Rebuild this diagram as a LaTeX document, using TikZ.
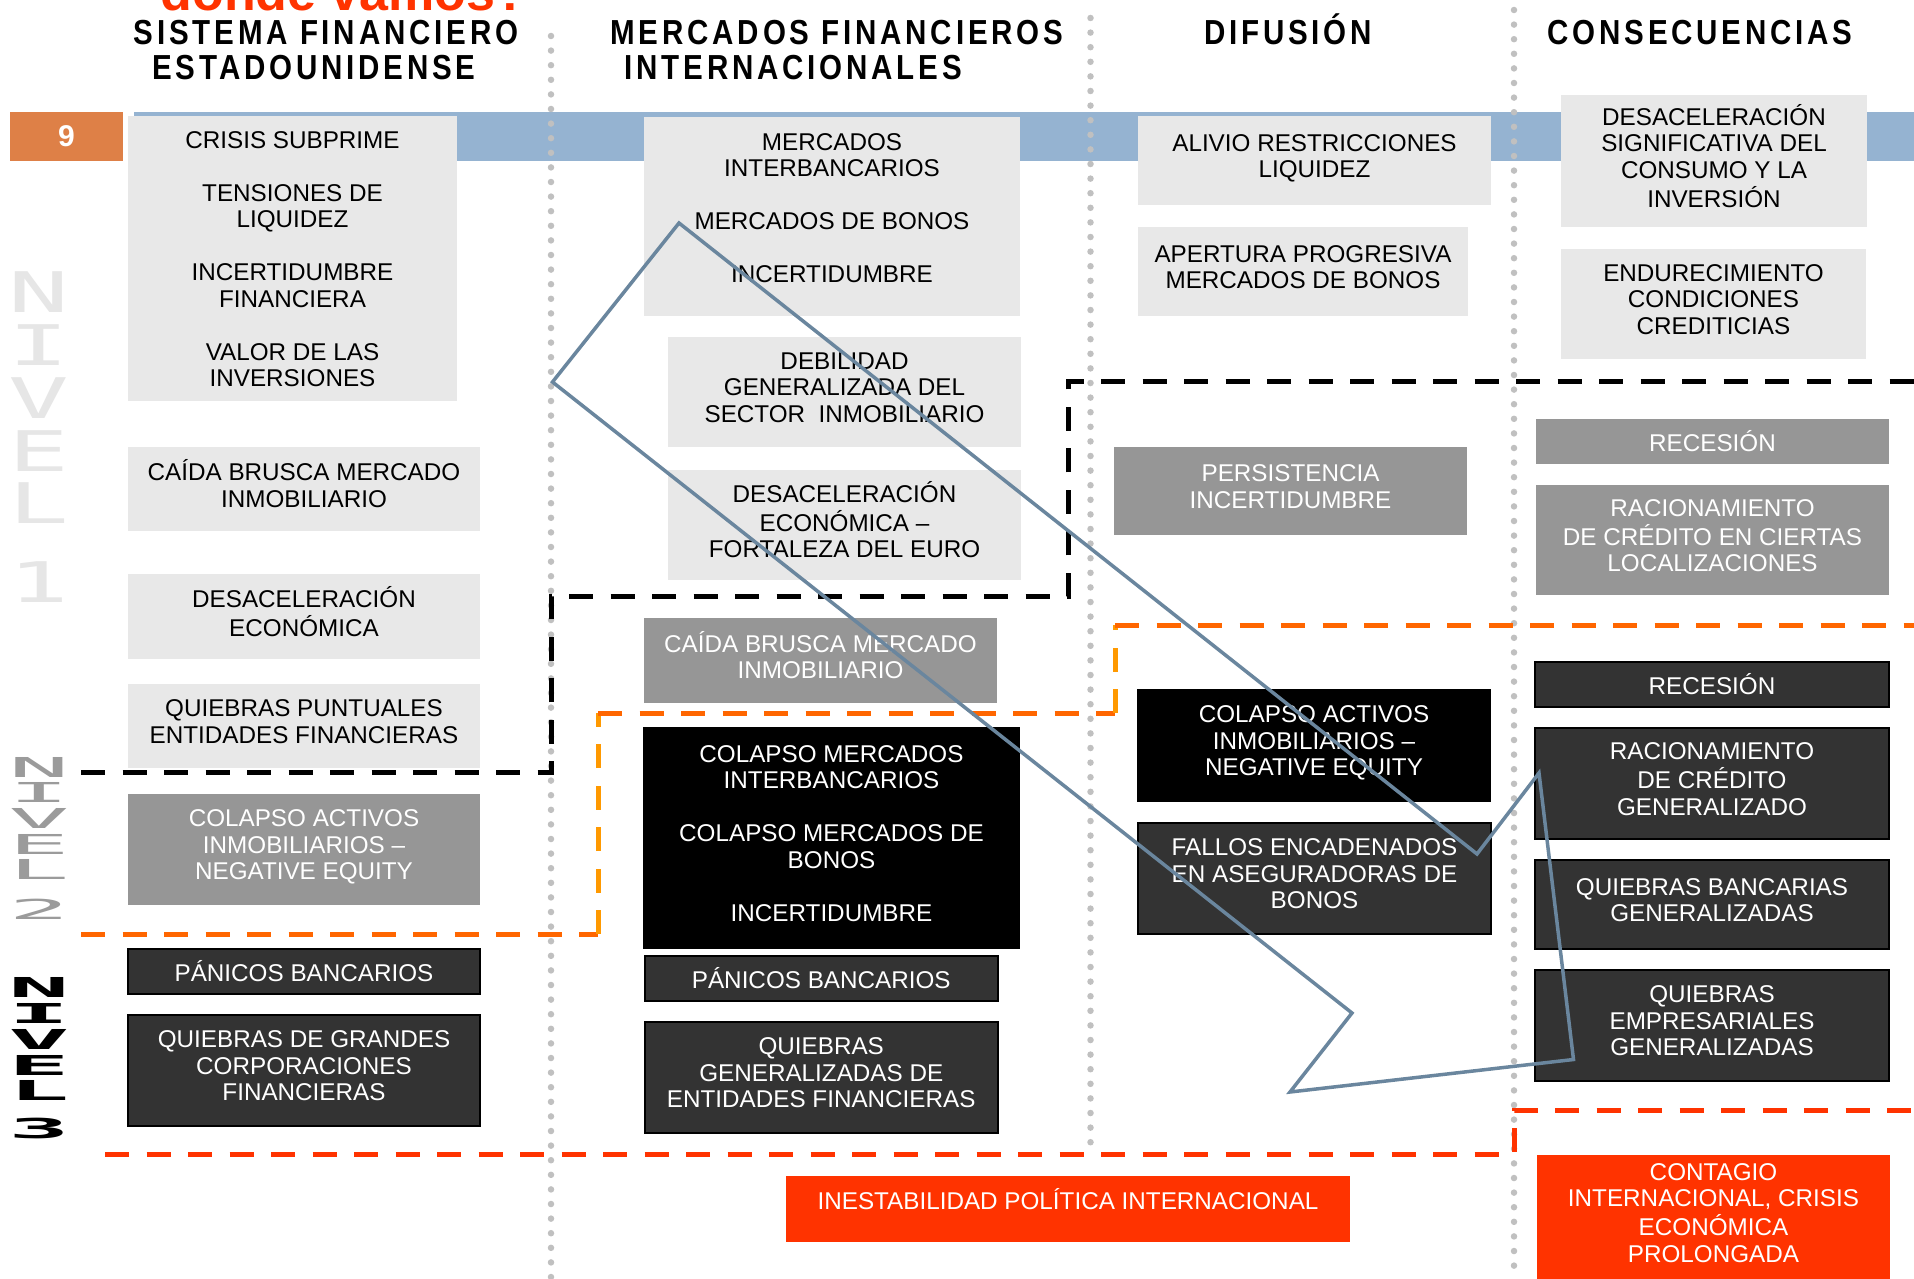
\documentclass[tikz,border=0pt]{standalone}
\usepackage{graphicx}
\usepackage{fontspec}
\setmainfont{Liberation Sans}
\newfontfamily\headfam{Liberation Sans}[FakeStretch=0.85,LetterSpace=11]
\newfontfamily\nivfam{DejaVu Sans Mono}
\usetikzlibrary{fit}

\definecolor{bandblue}{RGB}{149,179,209}
\definecolor{taborange}{RGB}{222,128,71}
\definecolor{boxlight}{RGB}{232,232,232}
\definecolor{boxmid}{RGB}{150,150,150}
\definecolor{boxdark}{RGB}{51,51,51}
\definecolor{alertred}{RGB}{255,51,0}
\definecolor{dotgrey}{RGB}{192,192,192}
\definecolor{lvlorange}{RGB}{255,102,0}
\definecolor{lvlamber}{RGB}{255,153,0}
\definecolor{arrowslate}{RGB}{106,134,158}
\definecolor{nivlight}{RGB}{230,230,230}
\definecolor{nivmid}{RGB}{155,155,155}

\newcommand\boxfont{\fontsize{9.7pt}{10.6pt}\selectfont}
\newcommand\headfont{\headfam\bfseries\fontsize{13.9pt}{14.2pt}\selectfont}
\newcommand\nivfont{\nivfam\fontsize{22.4pt}{24pt}\selectfont}
\newcommand\cellrows[1]{\begin{tabular}{@{}c@{}}#1\end{tabular}}
\newcommand\gap{\\[10.6pt]}

\begin{document}
\begin{tikzpicture}[x=0.4pt, y=-0.4pt,
	cell/.style={inner sep=0pt, outer sep=0pt},
	lightbox/.style={cell, fill=boxlight},
	midbox/.style={cell, fill=boxmid},
	darkbox/.style={cell, fill=boxdark, draw=black, line width=0.8pt},
	blackbox/.style={cell, fill=black},
	redbox/.style={cell, fill=alertred},
	blacktxt/.style={inner sep=0pt, font=\boxfont, text=black, yshift=0.6pt},
	whitetxt/.style={inner sep=0pt, font=\boxfont, text=white, yshift=0.6pt},
	oneline/.style={yshift=-2pt},
	headtxt/.style={inner sep=0pt, font=\headfont},
	nivone/.style={inner sep=0pt, font=\nivfont, text=nivlight},
	nivtwo/.style={inner sep=0pt, font=\nivfont, text=nivmid},
	nivthree/.style={inner sep=0pt, font=\nivfont\bfseries, text=black},
	dotline/.style={dotgrey, line width=2.6pt, line cap=round, dash pattern=on 0pt off 5.84pt},
	lvlone/.style={black, line width=2pt, dash pattern=on 9.6pt off 7pt},
	lvltwo/.style={lvlorange, line width=2pt, dash pattern=on 9.6pt off 7pt},
	lvltwoside/.style={lvlamber, line width=2pt, dash pattern=on 9.6pt off 7pt},
	lvlthree/.style={alertred, line width=2pt, dash pattern=on 9.6pt off 7pt},
	bigarrow/.style={arrowslate, line width=1.4pt}]

	\fill[white] (0,0) rectangle (1914,1279);
	\useasboundingbox (0,0) rectangle (1914,1279);

	% title and column heads
	\node[anchor=base west, inner sep=0pt, text=alertred, font=\bfseries\fontsize{20.8pt}{24pt}\selectfont] (titulo) at (160,11) {dónde vamos?};
	\node[headtxt, anchor=base] (hsist) at (326,45) {SISTEMA FINANCIERO};
	\node[headtxt, anchor=base] (hestad) at (314,80) {ESTADOUNIDENSE};
	\node[headtxt, anchor=base west] (hmerc) at (610,45) {MERCADOS FINANCIEROS};
	\node[headtxt, anchor=base west] (hinter) at (624,80) {INTERNACIONALES};
	\node[headtxt, anchor=base] (hdifu) at (1288,45) {DIFUSIÓN};
	\node[headtxt, anchor=base] (hcons) at (1700,45) {CONSECUENCIAS};

	% band, page number
	\fill[bandblue] (134,112.5) rectangle (1914,160.7);
	\node[cell, fill=taborange, fit={(10,112.5) (123,160.7)}] (pagina) {};
	\node[inner sep=0pt, text=white, font=\bfseries\fontsize{12pt}{14pt}\selectfont] (paginaT) at (pagina) {9};

	% column separators
	\draw[dotline] (551,36) -- (551,1279);
	\draw[dotline] (1090.5,18) -- (1090.5,1156);
	\draw[dotline] (1514,10) -- (1514,1279);

	% level borders
	\draw[lvlone] (81,772) -- (551,772) -- (551,596) -- (1068,596) -- (1068,381) -- (1914,381);
	\draw[lvltwo] (81,934) -- (598,934);
	\draw[lvltwoside] (598,934) -- (598,713);
	\draw[lvltwo] (598,713) -- (1115,713);
	\draw[lvltwoside] (1115,713) -- (1115,625);
	\draw[lvltwo] (1115,625) -- (1914,625);
	\draw[lvlthree] (105,1154) -- (1514,1154) -- (1514,1110) -- (1914,1110);

	% level labels
	\foreach \ch/\yy in {N/292,I/345,V/398,E/451,L/503,1/582}
		\node[nivone] (nivA\yy) at (39,\yy) {\scalebox{1.8}[1]{\ch}};
	\foreach \ch/\yy in {N/767,I/792,V/818,E/844,L/869,2/909}
		\node[nivtwo] (nivB\yy) at (39,\yy) {\scalebox{1.8}[0.49]{\ch}};
	\foreach \ch/\yy in {N/987,I/1013,V/1039,E/1065,L/1090,3/1129}
		\node[nivthree] (nivC\yy) at (39,\yy) {\scalebox{1.8}[0.49]{\ch}};

	% sistema financiero estadounidense
	\node[lightbox, fit={(128,116) (457,401)}] (crisis) {};
	\node[blacktxt, yshift=-2.1pt] (crisisT) at (crisis) {\cellrows{CRISIS SUBPRIME\gap TENSIONES DE\\LIQUIDEZ\gap INCERTIDUMBRE\\FINANCIERA\gap VALOR DE LAS\\INVERSIONES}};
	\node[lightbox, fit={(128,447) (480,531)}] (caidaus) {};
	\node[blacktxt] (caidausT) at (caidaus) {\cellrows{CAÍDA BRUSCA MERCADO\\INMOBILIARIO}};
	\node[lightbox, fit={(128,574) (480,659)}] (desacus) {};
	\node[blacktxt] (desacusT) at (desacus) {\cellrows{DESACELERACIÓN\\ECONÓMICA}};
	\node[lightbox, fit={(128,684) (480,768)}] (quiebrasus) {};
	\node[blacktxt] (quiebrasusT) at (quiebrasus) {\cellrows{QUIEBRAS PUNTUALES\\ENTIDADES FINANCIERAS}};
	\node[midbox, fit={(128,794) (480,905)}] (colapsous) {};
	\node[whitetxt] (colapsousT) at (colapsous) {\cellrows{COLAPSO ACTIVOS\\INMOBILIARIOS –\\NEGATIVE EQUITY}};
	\node[darkbox, fit={(128,949) (480,994)}] (panicous) {};
	\node[whitetxt, oneline] (panicousT) at (panicous) {\cellrows{PÁNICOS BANCARIOS}};
	\node[darkbox, fit={(128,1015) (480,1126)}] (corpous) {};
	\node[whitetxt] (corpousT) at (corpous) {\cellrows{QUIEBRAS DE GRANDES\\CORPORACIONES\\FINANCIERAS}};

	% mercados financieros internacionales
	\node[lightbox, fit={(644,117) (1020,316)}] (mercint) {};
	\node[blacktxt, yshift=1.5pt] (mercintT) at (mercint) {\cellrows{MERCADOS\\INTERBANCARIOS\gap MERCADOS DE BONOS\gap INCERTIDUMBRE}};
	\node[lightbox, fit={(668,337) (1021,447)}] (debilidad) {};
	\node[blacktxt] (debilidadT) at (debilidad) {\cellrows{DEBILIDAD\\GENERALIZADA DEL\\SECTOR\ \ INMOBILIARIO}};
	\node[lightbox, fit={(668,470) (1021,580)}] (desaceuro) {};
	\node[blacktxt] (desaceuroT) at (desaceuro) {\cellrows{DESACELERACIÓN\\ECONÓMICA –\\FORTALEZA DEL EURO}};
	\node[midbox, fit={(644,618) (997,702.5)}] (caidaint) {};
	\node[whitetxt] (caidaintT) at (caidaint) {\cellrows{CAÍDA BRUSCA MERCADO\\INMOBILIARIO}};
	\node[blackbox, fit={(643,727) (1020,949)}] (colapsoint) {};
	\node[whitetxt] (colapsointT) at (colapsoint) {\cellrows{COLAPSO MERCADOS\\INTERBANCARIOS\gap COLAPSO MERCADOS DE\\BONOS\gap INCERTIDUMBRE}};
	\node[darkbox, fit={(645,956) (997.5,1001)}] (panicoint) {};
	\node[whitetxt, oneline] (panicointT) at (panicoint) {\cellrows{PÁNICOS BANCARIOS}};
	\node[darkbox, fit={(645,1022) (997.5,1133)}] (quiebrasint) {};
	\node[whitetxt] (quiebrasintT) at (quiebrasint) {\cellrows{QUIEBRAS\\GENERALIZADAS DE\\ENTIDADES FINANCIERAS}};

	% difusion
	\node[lightbox, fit={(1138,116) (1491,205)}] (alivio) {};
	\node[blacktxt] (alivioT) at (alivio) {\cellrows{ALIVIO RESTRICCIONES\\LIQUIDEZ}};
	\node[lightbox, fit={(1138,227) (1468,316)}] (apertura) {};
	\node[blacktxt] (aperturaT) at (apertura) {\cellrows{APERTURA PROGRESIVA\\MERCADOS DE BONOS}};
	\node[midbox, fit={(1114,447) (1467,535)}] (persist) {};
	\node[whitetxt] (persistT) at (persist) {\cellrows{PERSISTENCIA\\INCERTIDUMBRE}};
	\node[blackbox, fit={(1137,689) (1491,802)}] (colapsodif) {};
	\node[whitetxt] (colapsodifT) at (colapsodif) {\cellrows{COLAPSO ACTIVOS\\INMOBILIARIOS –\\NEGATIVE EQUITY}};
	\node[darkbox, fit={(1138,823) (1491,934)}] (fallos) {};
	\node[whitetxt] (fallosT) at (fallos) {\cellrows{FALLOS ENCADENADOS\\EN ASEGURADORAS DE\\BONOS}};

	% consecuencias
	\node[lightbox, fit={(1561,95) (1867,227)}] (consumo) {};
	\node[blacktxt] (consumoT) at (consumo) {\cellrows{DESACELERACIÓN\\SIGNIFICATIVA DEL\\CONSUMO Y LA\\INVERSIÓN}};
	\node[lightbox, fit={(1561,249) (1866,359)}] (endurece) {};
	\node[blacktxt] (endureceT) at (endurece) {\cellrows{ENDURECIMIENTO\\CONDICIONES\\CREDITICIAS}};
	\node[midbox, fit={(1536,419) (1889,464)}] (recesA) {};
	\node[whitetxt, oneline] (recesAT) at (recesA) {\cellrows{RECESIÓN}};
	\node[midbox, fit={(1536,485) (1889,595)}] (racionA) {};
	\node[whitetxt] (racionAT) at (racionA) {\cellrows{RACIONAMIENTO\\DE CRÉDITO EN CIERTAS\\LOCALIZACIONES}};
	\node[darkbox, fit={(1535,661.5) (1889,707)}] (recesB) {};
	\node[whitetxt, oneline] (recesBT) at (recesB) {\cellrows{RECESIÓN}};
	\node[darkbox, fit={(1535,728) (1889,839)}] (racionB) {};
	\node[whitetxt] (racionBT) at (racionB) {\cellrows{RACIONAMIENTO\\DE CRÉDITO\\GENERALIZADO}};
	\node[darkbox, fit={(1535,860) (1889,949)}] (quiebrasban) {};
	\node[whitetxt] (quiebrasbanT) at (quiebrasban) {\cellrows{QUIEBRAS BANCARIAS\\GENERALIZADAS}};
	\node[darkbox, fit={(1535,970) (1889,1081)}] (quiebrasemp) {};
	\node[whitetxt] (quiebrasempT) at (quiebrasemp) {\cellrows{QUIEBRAS\\EMPRESARIALES\\GENERALIZADAS}};

	% bottom row
	\node[redbox, fit={(786,1176) (1350,1242)}] (inestab) {};
	\node[whitetxt, yshift=2pt] (inestabT) at (inestab) {\cellrows{INESTABILIDAD POLÍTICA INTERNACIONAL}};
	\node[redbox, fit={(1537,1155) (1890,1280)}] (contagio) {};
	\node[whitetxt] (contagioT) at (contagio) {\cellrows{CONTAGIO\\INTERNACIONAL, CRISIS\\ECONÓMICA\\PROLONGADA}};

	% big outline arrow
	\draw[bigarrow] (679,223) -- (1477,854) -- (1539,773) -- (1573.5,1059.5) -- (1290,1092) -- (1352,1013) -- (552.5,382) -- cycle;
\end{tikzpicture}
\end{document}
